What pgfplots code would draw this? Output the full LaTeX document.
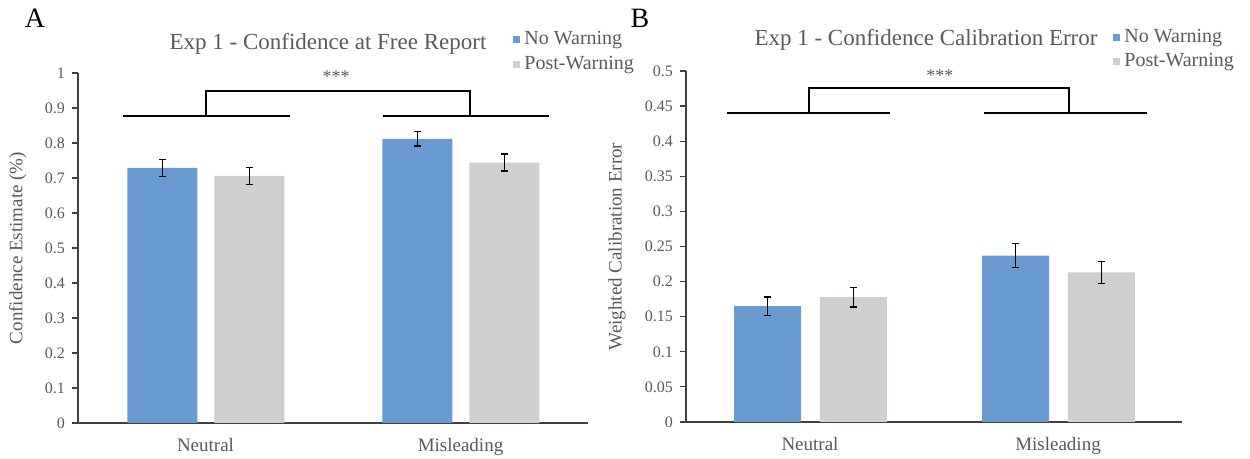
\documentclass[border=0pt]{standalone}
\usepackage{fontspec}
\setmainfont{Liberation Serif}
\usepackage{pgfplots}
\pgfplotsset{compat=1.18}

\definecolor{nowarn}{RGB}{106,155,208}
\definecolor{postwarn}{RGB}{208,206,206}
\definecolor{txt}{RGB}{89,89,89}
\definecolor{axln}{RGB}{64,64,64}

\pgfplotsset{
  panel/.style={
    scale only axis,
    anchor=south west,
    xmin=-0.5, xmax=1.5,
    ymin=0,
    clip=false,
    axis x line*=bottom,
    axis y line*=left,
    axis line style={axln, line width=0.8pt, -},
    xtick={0,1},
    xticklabels={Neutral,Misleading},
    xtick style={draw=none},
    ytick style={axln, line width=0.6pt},
    tick align=outside,
    major tick length=3pt,
    scaled y ticks=false,
    /pgf/number format/assume math mode=true,
    yticklabel style={font=\fontsize{8}{9}\selectfont, text=txt,
      /pgf/number format/fixed, /pgf/number format/precision=2},
    xticklabel style={font=\fontsize{9.5}{11}\selectfont, text=txt, yshift=-1pt},
    ylabel style={font=\fontsize{9.5}{11}\selectfont, text=txt, anchor=center},
    error bars/y dir=both,
    error bars/y explicit,
    error bars/error bar style={black, line width=0.7pt},
    error bars/error mark options={black, line width=0.7pt, mark size=1.6pt, rotate=90},
  },
}
\tikzset{
  ttl/.style={font=\fontsize{11.5}{13}\selectfont, text=txt},
  leg/.style={font=\fontsize{10}{12}\selectfont, text=txt, anchor=west, inner sep=0pt},
}

\begin{document}
\begin{tikzpicture}
\path[use as bounding box] (0,0) rectangle (625pt,-229.5pt);

% Panel A
\begin{axis}[panel,
  at={(39pt,-211.5pt)},
  width=255pt, height=175pt,
  ymax=1,
  ytick={0,0.1,...,1.01},
  ylabel={Confidence Estimate (\%)},
  ylabel style={at={(axis description cs:-0.118,0.5)}},
]
% No Warning: Neutral, Misleading
\addplot[ybar, bar width=35pt, bar shift=0pt, fill=nowarn, draw=none]
  coordinates {(-0.169,0.729) +- (0,0.024) (0.831,0.812) +- (0,0.021)};
% Post-Warning
\addplot[ybar, bar width=35pt, bar shift=0pt, fill=postwarn, draw=none]
  coordinates {(0.172,0.706) +- (0,0.024) (1.172,0.744) +- (0,0.024)};
\draw[black, line width=1pt] (axis cs:-0.324,0.877) -- (axis cs:0.331,0.877);
\draw[black, line width=1pt] (axis cs:0.696,0.877) -- (axis cs:1.347,0.877);
\draw[black, line width=1pt] (axis cs:0.002,0.877) -- (axis cs:0.002,0.949)
  -- (axis cs:1.037,0.949) -- (axis cs:1.037,0.877);
\node[font=\fontsize{9}{10}\selectfont, text=txt] at (axis cs:0.512,0.99) {***};
\end{axis}

% Panel B
\begin{axis}[panel,
  at={(343pt,-211pt)},
  width=248pt, height=175.5pt,
  ymax=0.5,
  ytick={0,0.05,...,0.501},
  ylabel={Weighted Calibration Error},
  ylabel style={at={(axis description cs:-0.139,0.5)}},
]
\addplot[ybar, bar width=33.5pt, bar shift=0pt, fill=nowarn, draw=none]
  coordinates {(-0.171,0.165) +- (0,0.013) (0.829,0.237) +- (0,0.017)};
\addplot[ybar, bar width=33.5pt, bar shift=0pt, fill=postwarn, draw=none]
  coordinates {(0.175,0.178) +- (0,0.014) (1.175,0.213) +- (0,0.016)};
\draw[black, line width=1pt] (axis cs:-0.335,0.44) -- (axis cs:0.323,0.44);
\draw[black, line width=1pt] (axis cs:0.702,0.44) -- (axis cs:1.359,0.44);
\draw[black, line width=1pt] (axis cs:-0.004,0.44) -- (axis cs:-0.004,0.476)
  -- (axis cs:1.044,0.476) -- (axis cs:1.044,0.44);
\node[font=\fontsize{9}{10}\selectfont, text=txt] at (axis cs:0.524,0.494) {***};
\end{axis}

% panel letters and titles
\node[font=\fontsize{14}{16}\selectfont] at (17.5pt,-9pt) {A};
\node[font=\fontsize{14}{16}\selectfont] at (320pt,-9pt) {B};
\node[ttl] at (164pt,-22pt) {Exp 1 - Confidence at Free Report};
\node[ttl] at (463pt,-20pt) {Exp 1 - Confidence Calibration Error};

% legends
\fill[nowarn] (256.5pt,-18.25pt) rectangle ++(3.5pt,-3.5pt);
\node[leg] at (262pt,-20pt) {No Warning};
\fill[postwarn] (256.5pt,-30.75pt) rectangle ++(3.5pt,-3.5pt);
\node[leg] at (262pt,-32.5pt) {Post-Warning};
\fill[nowarn] (556.5pt,-17.25pt) rectangle ++(3.5pt,-3.5pt);
\node[leg] at (562pt,-19pt) {No Warning};
\fill[postwarn] (556.5pt,-29.25pt) rectangle ++(3.5pt,-3.5pt);
\node[leg] at (562pt,-31pt) {Post-Warning};
\end{tikzpicture}
\end{document}
